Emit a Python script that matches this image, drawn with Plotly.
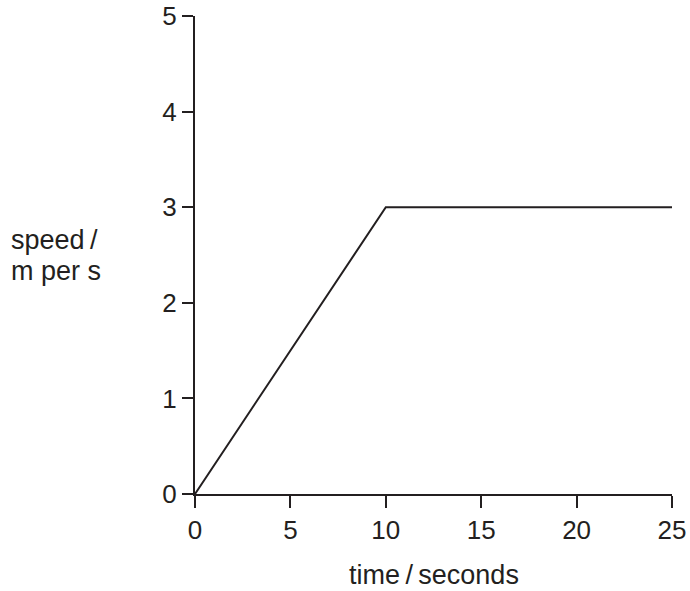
import plotly.graph_objects as go

time_s = [0, 10, 25]
speed = [0, 3, 3]
x_ticks = [0, 5, 10, 15, 20, 25]
y_ticks = [0, 1, 2, 3, 4, 5]

ink = "#231f20"
tick_font = dict(family="Liberation Sans, Arial, sans-serif", size=26, color=ink)
label_font = dict(family="Liberation Sans, Arial, sans-serif", size=27, color=ink)

fig = go.Figure()
fig.add_trace(go.Scatter(x=time_s, y=speed, mode="lines",
                         line=dict(color=ink, width=2), hoverinfo="skip",
                         cliponaxis=False))

fig.update_layout(
    width=690, height=591,
    margin=dict(l=195, r=18, t=16, b=97, autoexpand=False),
    paper_bgcolor="white", plot_bgcolor="white",
    showlegend=False,
    font=tick_font,
    xaxis=dict(range=[0, 25], tickvals=x_ticks, ticks="outside", ticklen=12,
               tickwidth=2, tickcolor=ink, showline=True, linewidth=2,
               linecolor=ink, showgrid=False, zeroline=False, automargin=False,
               tickfont=tick_font, fixedrange=True),
    yaxis=dict(range=[0, 5], tickvals=y_ticks, ticks="outside", ticklen=11,
               tickwidth=2, tickcolor=ink, showline=True, linewidth=2,
               linecolor=ink, showgrid=False, zeroline=False, automargin=False,
               tickfont=tick_font, fixedrange=True),
    annotations=[
        dict(text="time\u2009/\u2009seconds", xref="paper", yref="paper", x=0.5, y=0,
             yshift=-64, xanchor="center", yanchor="top", showarrow=False,
             font=label_font),
        dict(text="speed\u2009/", xref="paper", yref="paper", x=0, y=0.5314,
             xshift=-186, xanchor="left", yanchor="middle", showarrow=False,
             font=label_font),
        dict(text="m per s", xref="paper", yref="paper", x=0, y=0.4665,
             xshift=-186, xanchor="left", yanchor="middle", showarrow=False,
             font=label_font),
    ],
)

fig.write_html("out.html", config={"displayModeBar": False},
               post_script="document.body.style.margin='0';document.body.style.overflow='hidden';")
